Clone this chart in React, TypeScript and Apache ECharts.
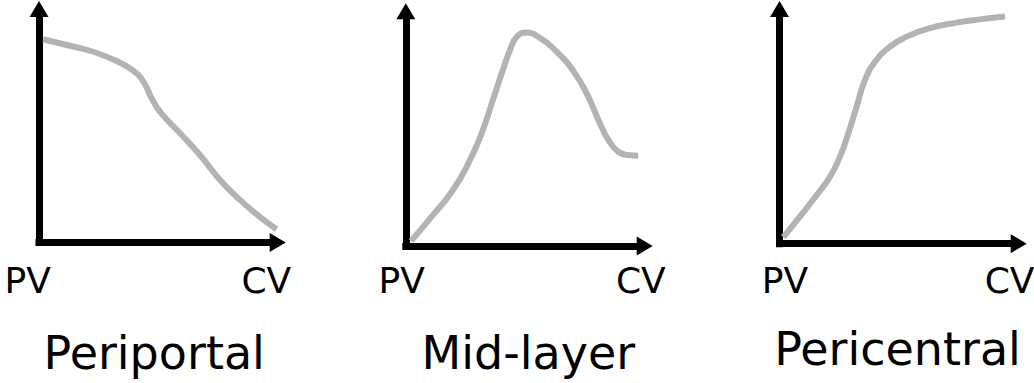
import React, { useEffect, useRef } from "react";
import * as echarts from "echarts";

// ---- data (axis units 0..100, PV -> CV on x) ----
const titles = ["Periportal", "Mid-layer", "Pericentral"];
const endLabels = ["PV", "CV"];

const periportalX = [1.8, 11.7, 22.9, 32.8, 39.8, 44.1, 47.6, 51.1, 59.6, 68.0, 76.5, 84.9, 93.3, 100.4];
const periportalY = [87.8, 85.3, 82.4, 78.4, 74.2, 69.5, 62.3, 56.5, 47.2, 37.8, 27.0, 18.4, 11.1, 5.7];

const midX = [2.2, 10.9, 19.4, 26.4, 32.0, 36.3, 40.5, 44.0, 46.8, 51.0, 55.9, 64.4, 71.4, 77.0, 81.3, 85.5, 89.7, 93.9, 98.1];
const midY = [2.1, 12.6, 23.3, 35.5, 48.4, 61.3, 74.2, 84.2, 89.9, 91.7, 89.9, 82.8, 74.2, 64.2, 54.2, 45.6, 40.5, 39.1, 38.8];

const periX = [1.6, 8.6, 15.7, 21.3, 25.5, 29.0, 32.5, 36.0, 40.3, 46.6, 53.6, 63.3, 74.7, 84.5, 95.1];
const periY = [2.8, 11.6, 20.9, 28.8, 37.4, 47.4, 58.9, 70.3, 78.2, 84.7, 89.0, 92.6, 95.0, 96.4, 97.6];

const seriesX = [periportalX, midX, periX];
const seriesY = [periportalY, midY, periY];

// ---- layout ----
const grids = [
  { left: 39, top: 11, width: 236.7, height: 231.5 },
  { left: 405.8, top: 13.3, width: 236.9, height: 232.7 },
  { left: 779.5, top: 11, width: 237.2, height: 232.7 },
];
const pvX = [27.6, 401.7, 785];
const cvX = [266.3, 640.8, 1009.6];
const labelY = 280;
const titleX = [154.2, 528.3, 897.5];
const titleY = [353.3, 352.5, 349];

const FONT = "'DejaVu Sans', Verdana, sans-serif";

export default function App() {
  const ref = useRef<HTMLDivElement>(null);
  useEffect(() => {
    document.body.style.margin = "0";
    if (!ref.current) return;
    const chart = echarts.init(ref.current, null, { renderer: "svg" });
    const axisCommon = {
      type: "value" as const,
      min: 0,
      max: 100,
      axisTick: { show: false },
      axisLabel: { show: false },
      splitLine: { show: false },
      axisLine: {
        show: true,
        onZero: false,
        symbol: ["none", "triangle"],
        symbolSize: [19, 16],
        symbolOffset: [0, 2],
        lineStyle: { color: "#000", width: 7, cap: "square" },
      },
    };
    const graphics: any[] = [];
    titles.forEach((t, i) => {
      graphics.push({
        type: "text",
        x: pvX[i],
        y: labelY,
        style: { text: endLabels[0], fontSize: 36, fontFamily: FONT, fill: "#000", align: "center", verticalAlign: "middle" },
      });
      graphics.push({
        type: "text",
        x: cvX[i],
        y: labelY,
        style: { text: endLabels[1], fontSize: 36, fontFamily: FONT, fill: "#000", align: "center", verticalAlign: "middle" },
      });
      graphics.push({
        type: "text",
        x: titleX[i],
        y: titleY[i],
        style: { text: t, fontSize: 46, fontFamily: FONT, fill: "#000", align: "center", verticalAlign: "middle" },
      });
    });
    chart.setOption({
      animation: false,
      backgroundColor: "#fff",
      grid: grids.map((g) => ({ ...g, containLabel: false })),
      xAxis: grids.map((_, i) => ({ ...axisCommon, gridIndex: i })),
      yAxis: grids.map((_, i) => ({ ...axisCommon, gridIndex: i })),
      series: titles.map((t, i) => ({
        name: t,
        type: "line",
        xAxisIndex: i,
        yAxisIndex: i,
        smooth: 0.5,
        symbol: "none",
        clip: false,
        lineStyle: { color: "#b3b3b3", width: 6, cap: "butt" },
        data: seriesX[i].map((x, k) => [x, seriesY[i][k]]),
      })),
      graphic: graphics,
    });
    return () => chart.dispose();
  }, []);
  return <div ref={ref} style={{ width: 1034, height: 383 }} />;
}
